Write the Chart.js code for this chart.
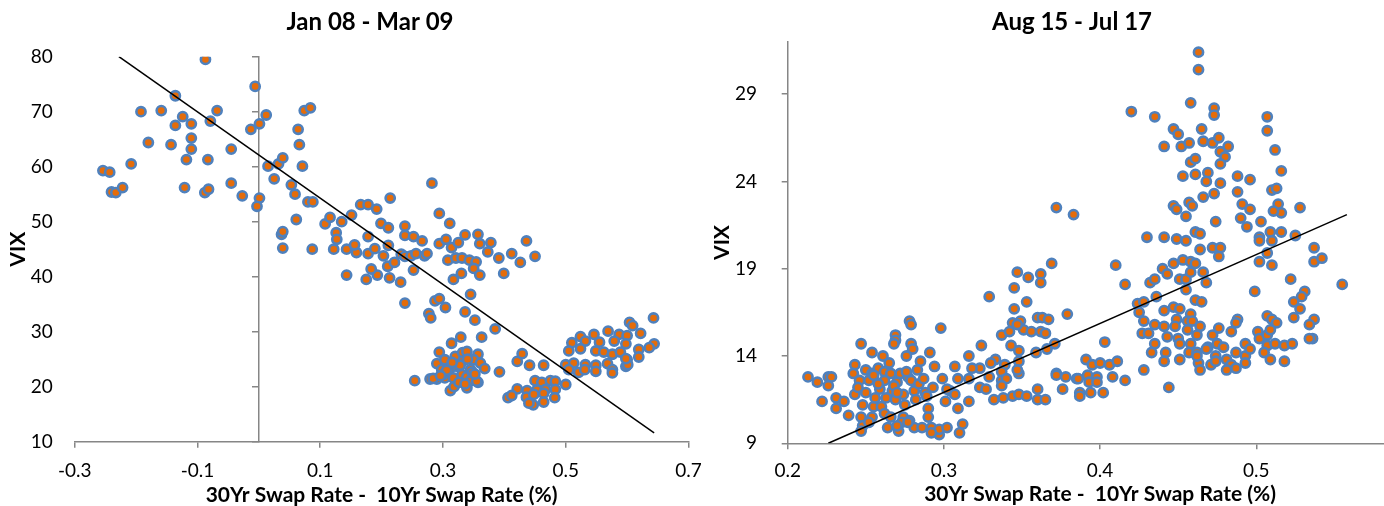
<!DOCTYPE html>
<html>
<head>
<meta charset="utf-8">
<title>VIX vs 30Yr-10Yr swap spread</title>
<script src="https://cdn.jsdelivr.net/npm/chart.js@4/dist/chart.umd.min.js"></script>
<style>
  html, body { margin: 0; padding: 0; width: 1384px; height: 506px; overflow: hidden; background: #ffffff; }
  #wrap { position: relative; width: 1384px; height: 506px; overflow: hidden; }
  canvas { position: absolute; top: 0; }
  #leftChart { left: 0; }
  #rightChart { left: 700px; }
</style>
</head>
<body>
<div id="wrap">
  <canvas id="leftChart" width="760" height="506"></canvas>
  <canvas id="rightChart" width="760" height="506"></canvas>
</div>
<script>
// ---------- Panel 1: Jan 08 - Mar 09 ----------
const leftTitle = 'Jan 08 - Mar 09';
const leftXTicks = [-0.3, -0.1, 0.1, 0.3, 0.5, 0.7];
const leftYTicks = [10, 20, 30, 40, 50, 60, 70, 80];

// 30Yr - 10Yr swap spread (%)
const leftSpread = [
  -0.087, -0.006, -0.136, -0.192, -0.159, -0.124, -0.136, -0.110, -0.079, -0.068,
  -0.110, -0.110, -0.180, -0.143, -0.118, -0.083, -0.045, -0.254, -0.243, -0.208,
  -0.240, -0.233, -0.222, -0.121, -0.088, -0.082, -0.045, -0.027, 0.001, -0.003,
  -0.013, 0.001, 0.012, 0.015, 0.032, 0.039, 0.025, 0.053, 0.059, 0.074,
  0.084, 0.064, 0.066, 0.071, 0.080, 0.088, 0.061, 0.037, 0.039, 0.039,
  0.087, 0.108, 0.116, 0.135, 0.126, 0.127, 0.122, 0.143, 0.159, 0.151,
  0.166, 0.143,
  0.178, 0.192, 0.214, 0.178, 0.199, 0.211, 0.178, 0.189, 0.203, 0.211,
  0.210, 0.221, 0.175, 0.193, 0.183, 0.213, 0.231, 0.238, 0.238, 0.238,
  0.252, 0.266, 0.232, 0.238, 0.248, 0.256, 0.270, 0.274, 0.252, 0.282,
  0.294, 0.311, 0.294, 0.305, 0.314, 0.325, 0.336, 0.357, 0.360, 0.378,
  0.308, 0.321, 0.331, 0.343, 0.354, 0.373, 0.391, 0.412, 0.426, 0.436,
  0.450, 0.317, 0.330, 0.350, 0.360, 0.399, 0.345, 0.287, 0.294, 0.304,
  0.336, 0.352, 0.277, 0.280, 0.385, 0.363, 0.314, 0.329, 0.156,
  0.294, 0.290, 0.303, 0.320, 0.332, 0.339, 0.357, 0.350, 0.332, 0.345,
  0.361, 0.368, 0.312, 0.323, 0.298, 0.279, 0.290, 0.303, 0.254, 0.317,
  0.331, 0.339, 0.357, 0.344, 0.312, 0.318, 0.339, 0.355, 0.392, 0.421,
  0.429, 0.441, 0.464, 0.450, 0.461, 0.475, 0.483, 0.500, 0.421, 0.437,
  0.453, 0.467, 0.483, 0.406, 0.412, 0.436, 0.448, 0.464, 0.482, 0.447,
  0.464, 0.440, 0.300, 0.326, 0.348, 0.284,
  0.306, 0.328, 0.340, 0.352, 0.315, 0.336, 0.296,
  0.643, 0.604, 0.609, 0.622, 0.569, 0.587, 0.600, 0.546, 0.524, 0.510,
  0.532, 0.555, 0.579, 0.598, 0.644, 0.636, 0.619, 0.619, 0.600, 0.505,
  0.524, 0.549, 0.562, 0.576, 0.589, 0.500, 0.513, 0.532, 0.549, 0.568,
  0.598, 0.505, 0.521, 0.531, 0.549, 0.576, 0.576, 0.601, 0.598
];
// VIX level
const leftVix = [
  79.5, 74.6, 72.9, 70.0, 70.2, 69.1, 67.5, 67.8, 68.3, 70.2,
  65.2, 63.2, 64.4, 64.0, 61.3, 61.3, 63.2, 59.3, 59.0, 60.5,
  55.4, 55.3, 56.2, 56.2, 55.3, 55.9, 57.0, 54.7, 54.3, 52.8,
  66.8, 67.8, 69.4, 60.1, 60.5, 61.6, 57.8, 56.7, 55.0, 70.2,
  70.7, 66.8, 64.0, 60.1, 53.6, 53.6, 50.4, 47.7, 48.2, 45.2,
  45.0, 49.6, 50.8, 50.0, 48.0, 46.8, 45.0, 45.0, 44.4, 51.2,
  53.1, 40.3,
  53.1, 52.3, 54.3, 47.3, 49.7, 48.9, 44.2, 45.1, 43.8, 45.7,
  41.9, 42.6, 39.5, 40.3, 41.4, 39.8, 39.0, 35.2, 49.2, 47.5,
  47.3, 46.5, 44.1, 43.7, 43.8, 44.2, 43.8, 44.2, 41.2, 57.0,
  51.5, 49.7, 46.0, 46.8, 45.3, 46.2, 47.6, 47.7, 46.0, 46.2,
  43.0, 43.4, 43.4, 43.0, 42.7, 44.5, 43.4, 44.2, 42.6, 46.5,
  43.7, 39.5, 40.6, 41.5, 40.3, 40.6, 36.8, 35.6, 36.0, 34.4,
  33.6, 32.1, 33.3, 32.5, 30.5, 29.0, 27.9, 29.0, 45.8,
  26.3, 24.2, 24.9, 25.5, 26.2, 26.4, 25.9, 24.9, 24.6, 23.1,
  24.3, 23.3, 23.4, 23.7, 23.1, 21.4, 21.4, 21.6, 21.1, 21.6,
  22.2, 21.8, 20.8, 21.0, 19.3, 20.0, 19.8, 21.0, 22.7, 24.6,
  26.0, 23.9, 23.9, 21.1, 20.8, 21.1, 21.0, 20.4, 19.6, 19.3,
  19.4, 19.5, 19.5, 18.0, 18.4, 18.1, 18.6, 18.8, 18.0, 16.7,
  17.2, 17.0, 22.2, 20.8, 22.6, 21.5,
  23.0, 23.9, 25.0, 22.3, 24.4, 20.5, 22.0,
  32.5, 31.7, 31.1, 29.7, 30.1, 29.5, 29.3, 29.5, 29.1, 28.0,
  28.3, 28.1, 28.3, 27.8, 27.8, 27.1, 26.8, 25.4, 24.9, 26.5,
  26.9, 26.5, 26.3, 25.9, 26.3, 24.0, 24.3, 24.0, 23.9, 24.2,
  23.7, 23.1, 22.6, 23.1, 22.8, 23.1, 22.5, 24.0, 25.1
];
// Least-squares trendline end points
const leftTrendX = [-0.228, 0.644];
const leftTrendY = [80.0, 11.6];

// ---------- Panel 2: Aug 15 - Jul 17 ----------
const rightTitle = 'Aug 15 - Jul 17';
const rightXTicks = [0.2, 0.3, 0.4, 0.5, 0.6];
const rightYTicks = [9, 14, 19, 24, 29];

const rightSpread = [
  0.278, 0.279, 0.298, 0.247, 0.269, 0.269, 0.268, 0.279, 0.280, 0.254,
  0.261, 0.276, 0.291, 0.285, 0.294, 0.307, 0.213, 0.219, 0.226, 0.228,
  0.226, 0.243, 0.242, 0.250, 0.254, 0.258, 0.262, 0.266, 0.246, 0.252,
  0.262, 0.270, 0.277, 0.272, 0.222, 0.231, 0.236, 0.243, 0.250, 0.259,
  0.267, 0.274, 0.281, 0.288, 0.293, 0.299, 0.304, 0.309, 0.231, 0.239,
  0.248, 0.255, 0.260, 0.269, 0.275, 0.282, 0.289, 0.247, 0.254, 0.262,
  0.266, 0.274, 0.278, 0.248, 0.247, 0.252, 0.264, 0.271, 0.281, 0.273,
  0.290, 0.290, 0.292, 0.297, 0.297, 0.302, 0.309, 0.312, 0.310, 0.301,
  0.307, 0.268, 0.279, 0.270, 0.277, 0.286, 0.292, 0.255, 0.276, 0.302,
  0.258, 0.263, 0.270, 0.284, 0.256, 0.245, 0.265, 0.283, 0.287,
  0.372, 0.369, 0.347, 0.354, 0.362, 0.362, 0.345, 0.329, 0.353, 0.345,
  0.360, 0.363, 0.367, 0.344, 0.349, 0.337, 0.342, 0.351, 0.356, 0.362,
  0.365, 0.371, 0.324, 0.343, 0.348, 0.359, 0.366, 0.316, 0.333, 0.330,
  0.323, 0.318, 0.348, 0.339, 0.337, 0.337, 0.340, 0.348, 0.329, 0.316,
  0.323, 0.327, 0.337, 0.332, 0.338, 0.344, 0.348, 0.353, 0.360, 0.360,
  0.365, 0.316, 0.372, 0.376, 0.379, 0.347, 0.347,
  0.463, 0.463, 0.458, 0.420, 0.435, 0.473, 0.473, 0.507, 0.507, 0.447,
  0.450, 0.465, 0.441, 0.452, 0.457, 0.466, 0.472, 0.476, 0.482, 0.512,
  0.477, 0.480, 0.477, 0.458, 0.461, 0.516, 0.453, 0.461, 0.469, 0.468,
  0.477, 0.473, 0.466, 0.488, 0.496, 0.488, 0.510, 0.513, 0.491, 0.496,
  0.490, 0.494, 0.514, 0.516, 0.511, 0.528, 0.447, 0.449, 0.457, 0.459,
  0.455, 0.474, 0.503, 0.430, 0.441, 0.449, 0.455, 0.461, 0.464, 0.502,
  0.502, 0.509, 0.516, 0.510, 0.525, 0.464, 0.472, 0.477, 0.476, 0.507,
  0.502, 0.510, 0.537, 0.537, 0.542, 0.447, 0.453, 0.458, 0.461, 0.440,
  0.443, 0.466, 0.410, 0.451, 0.455, 0.458, 0.432, 0.435, 0.468, 0.416,
  0.522, 0.555, 0.499, 0.455, 0.461, 0.465, 0.531, 0.529, 0.524, 0.528,
  0.524, 0.424, 0.428, 0.436, 0.425, 0.441, 0.447, 0.451, 0.458, 0.428,
  0.449, 0.456, 0.459, 0.488, 0.487, 0.484, 0.507, 0.510, 0.513, 0.537,
  0.534, 0.536, 0.534, 0.435, 0.441, 0.448, 0.456, 0.464, 0.427, 0.431,
  0.443, 0.450, 0.462, 0.472, 0.476, 0.501, 0.502, 0.507, 0.509, 0.403,
  0.435, 0.451, 0.458, 0.469, 0.475, 0.479, 0.493, 0.507, 0.512, 0.518,
  0.523, 0.433, 0.442, 0.457, 0.462, 0.474, 0.487, 0.493, 0.496, 0.505,
  0.441, 0.451, 0.463, 0.471, 0.474, 0.481, 0.484, 0.487, 0.493, 0.509,
  0.518, 0.428, 0.464, 0.481, 0.444, 0.391, 0.395, 0.400, 0.406, 0.411,
  0.372, 0.378, 0.385, 0.392, 0.398, 0.408, 0.416, 0.387, 0.394, 0.402,
  0.393, 0.398, 0.383, 0.468, 0.462, 0.387, 0.386
];
const rightVix = [
  16.0, 15.8, 15.6, 14.7, 15.2, 14.9, 14.7, 14.7, 14.4, 14.2,
  14.0, 14.0, 14.2, 13.7, 13.4, 13.4, 12.8, 12.5, 12.8, 12.8,
  12.3, 13.5, 13.0, 13.2, 13.0, 13.3, 13.1, 13.0, 12.6, 12.6,
  12.6, 12.5, 12.8, 13.0, 11.4, 11.6, 11.4, 11.8, 11.9, 12.1,
  12.0, 11.8, 12.0, 11.9, 12.2, 12.7, 12.0, 12.7, 11.0, 10.6,
  11.2, 11.1, 11.1, 11.5, 11.2, 11.5, 11.7, 10.5, 10.5, 10.7,
  10.5, 10.5, 10.3, 10.0, 9.7, 10.2, 9.9, 9.7, 9.9, 10.2,
  11.0, 10.5, 9.9, 9.5, 9.8, 9.9, 11.0, 10.1, 9.6, 11.4,
  11.8, 12.3, 12.6, 10.0, 10.2, 9.9, 9.6, 12.9, 13.1, 12.1,
  12.4, 11.6, 11.9, 12.4, 11.6, 12.2, 13.6, 13.2, 12.7,
  22.5, 19.3, 18.8, 18.5, 18.7, 18.2, 17.9, 17.4, 17.1, 16.7,
  16.2, 16.2, 16.1, 15.9, 16.0, 15.2, 15.4, 15.5, 15.4, 15.4,
  15.3, 14.7, 14.6, 14.6, 14.3, 14.2, 14.4, 14.0, 13.8, 13.6,
  13.3, 13.3, 13.7, 13.5, 13.1, 12.6, 12.7, 13.0, 12.8, 12.7,
  12.2, 12.1, 12.3, 11.5, 11.6, 11.7, 11.8, 11.7, 12.1, 11.5,
  11.5, 11.4, 13.0, 12.1, 16.4, 15.8, 13.2,
  31.4, 30.4, 28.5, 28.0, 27.7, 28.2, 27.8, 27.7, 26.9, 27.0,
  26.7, 27.0, 26.0, 26.0, 26.2, 26.3, 26.2, 26.5, 26.0, 25.8,
  25.7, 25.4, 25.0, 25.1, 25.3, 24.6, 24.3, 24.4, 24.5, 24.0,
  23.9, 23.3, 23.1, 24.3, 24.1, 23.4, 23.5, 23.6, 22.7, 22.4,
  21.9, 21.4, 22.7, 22.2, 22.3, 22.5, 22.6, 22.4, 22.8, 22.6,
  22.0, 21.7, 21.7, 20.8, 20.8, 20.7, 20.6, 21.1, 21.0, 20.8,
  20.6, 21.1, 21.1, 20.6, 20.9, 20.1, 20.2, 20.2, 19.7, 19.9,
  19.4, 19.2, 20.2, 19.4, 19.6, 19.3, 19.5, 19.4, 19.3, 19.0,
  18.7, 18.8, 19.2, 18.4, 18.4, 18.8, 18.2, 18.4, 18.2, 18.1,
  18.4, 18.1, 17.7, 17.8, 17.2, 17.1, 17.7, 17.4, 17.1, 16.7,
  16.2, 17.0, 17.1, 17.4, 16.5, 16.6, 16.8, 16.7, 16.4, 16.0,
  16.1, 16.0, 16.0, 16.1, 15.9, 15.4, 16.3, 16.1, 15.9, 16.1,
  15.8, 15.0, 15.0, 15.8, 15.7, 15.7, 15.5, 15.7, 15.3, 15.3,
  15.1, 15.0, 15.2, 15.2, 15.6, 15.4, 15.0, 15.2, 15.5, 14.8,
  14.7, 14.7, 14.7, 14.5, 14.7, 14.5, 14.7, 14.6, 14.7, 14.6,
  14.7, 14.2, 14.2, 14.2, 14.2, 14.0, 14.2, 14.0, 14.4, 14.2,
  13.7, 13.8, 13.6, 13.5, 13.7, 13.8, 13.5, 13.3, 13.6, 13.8,
  13.7, 13.2, 13.2, 13.2, 12.2, 13.8, 13.5, 13.6, 13.5, 13.7,
  12.9, 12.8, 12.7, 12.9, 12.8, 12.8, 12.6, 11.9, 11.9, 11.9,
  12.5, 12.5, 22.1, 14.4, 14.0, 11.7, 12.7
];
const rightTrendX = [0.226, 0.558];
const rightTrendY = [9.0, 22.1];

const xAxisTitle = '30Yr Swap Rate -  10Yr Swap Rate (%)';
const yAxisTitle = 'VIX';

// ---------- shared styling ----------
const FONT_FAMILY = "Lato, 'Open Sans', 'DejaVu Sans', sans-serif";
const AXIS_GREY = '#868686';
const MARKER_FILL = '#E46C0A';
const MARKER_EDGE = '#4F81BD';

function toPoints(xs, ys) {
  return xs.map((x, i) => ({ x: x, y: ys[i] }));
}
function fixedTicks(list) {
  return function (scale) { scale.ticks = list.map(v => ({ value: v })); };
}
const tickFont = { family: FONT_FAMILY, size: 19 };
const axisTitleFont = { family: FONT_FAMILY, size: 21, weight: 'bold', lineHeight: 1 };
const chartTitleFont = { family: FONT_FAMILY, size: 24, weight: 'bold', lineHeight: 1.2 };

function buildChart(canvasId, cfg) {
  const scales = {
    x: {
      type: 'linear',
      min: cfg.xMin, max: cfg.xMax,
      afterBuildTicks: fixedTicks(cfg.xTicks),
      ticks: { color: '#000', font: tickFont, padding: cfg.xTickPad, maxRotation: 0,
               callback: v => String(v) },
      grid: { drawOnChartArea: false, drawTicks: true, tickLength: 6, color: AXIS_GREY, lineWidth: 1.5 },
      border: { display: true, color: AXIS_GREY, width: 1.5 },
      title: { display: true, text: xAxisTitle, color: '#000', font: axisTitleFont,
               padding: { top: 0, bottom: cfg.xTitlePad } },
      afterFit: s => { s.height = cfg.xAxisHeight; }
    },
    y: {
      type: 'linear',
      min: cfg.yMin, max: cfg.yMax,
      afterBuildTicks: fixedTicks(cfg.yTicks),
      ticks: { color: '#000', font: tickFont, padding: cfg.yTickPad, callback: v => String(v) },
      grid: cfg.yAxisAtEdge
        ? { drawOnChartArea: false, drawTicks: true, tickLength: 6, color: AXIS_GREY, lineWidth: 1.5 }
        : { display: false, drawOnChartArea: false, drawTicks: false },
      border: { display: cfg.yAxisAtEdge, color: AXIS_GREY, width: 1.5 },
      title: { display: true, text: yAxisTitle, color: '#000', font: axisTitleFont,
               padding: { top: cfg.yTitlePad, bottom: 0 } },
      afterFit: s => { s.width = cfg.yAxisWidth; }
    },
    // empty right-hand margin so the chart title is centred on the whole panel
    yMargin: {
      type: 'linear', axis: 'y', position: 'right', display: true,
      ticks: { display: false }, grid: { display: false, drawTicks: false }, border: { display: false },
      afterFit: s => { s.width = cfg.rightMargin; }
    }
  };
  if (!cfg.yAxisAtEdge) {
    // vertical axis line crossing at x = 0, tick marks only
    scales.yZero = {
      type: 'linear', axis: 'y', position: { x: 0 },
      min: cfg.yMin, max: cfg.yMax,
      afterBuildTicks: fixedTicks(cfg.yTicks),
      ticks: { display: false },
      grid: { drawOnChartArea: false, drawTicks: true, tickLength: 6, color: AXIS_GREY, lineWidth: 1.5 },
      border: { display: true, color: AXIS_GREY, width: 1.5 }
    };
  }
  return new Chart(document.getElementById(canvasId), {
    type: 'scatter',
    data: {
      datasets: [
        {
          type: 'line',
          data: toPoints(cfg.trendX, cfg.trendY),
          borderColor: '#000000', borderWidth: 1.5,
          pointRadius: 0, fill: false, tension: 0, order: 0
        },
        {
          data: toPoints(cfg.xs, cfg.ys),
          backgroundColor: MARKER_FILL, borderColor: MARKER_EDGE,
          borderWidth: 2.6, pointRadius: 4.6, pointHoverRadius: 4.6, order: 1
        }
      ]
    },
    options: {
      responsive: false,
      animation: false,
      events: [],
      layout: { padding: { left: 0, top: 0, bottom: 0, right: cfg.padRight } },
      plugins: {
        legend: { display: false },
        tooltip: { enabled: false },
        title: {
          display: true, text: cfg.title, color: '#000', font: chartTitleFont,
          padding: { top: cfg.titleTop, bottom: cfg.titleBottom }
        }
      },
      scales: scales
    }
  });
}

buildChart('leftChart', {
  title: leftTitle, xs: leftSpread, ys: leftVix, trendX: leftTrendX, trendY: leftTrendY,
  xMin: -0.3, xMax: 0.7, xTicks: leftXTicks,
  yMin: 10, yMax: 80, yTicks: leftYTicks,
  yAxisAtEdge: false,
  yAxisWidth: 74.7, yTickPad: 22, yTitlePad: 7.5,
  xAxisHeight: 64.3, xTickPad: 11.9, xTitlePad: 0,
  padRight: 20, rightMargin: 51.5,
  titleTop: 7.6, titleBottom: 20.3
});

buildChart('rightChart', {
  title: rightTitle, xs: rightSpread, ys: rightVix, trendX: rightTrendX, trendY: rightTrendY,
  xMin: 0.2, xMax: 0.6, xTicks: rightXTicks,
  yMin: 9, yMax: 32, yTicks: rightYTicks,
  yAxisAtEdge: true,
  yAxisWidth: 87.7, yTickPad: 24.7, yTitlePad: 11.5,
  xAxisHeight: 62.7, xTickPad: 10.3, xTitlePad: 1.5,
  padRight: 16, rightMargin: 31.5,
  titleTop: 7.6, titleBottom: 5.3
});
</script>
</body>
</html>
